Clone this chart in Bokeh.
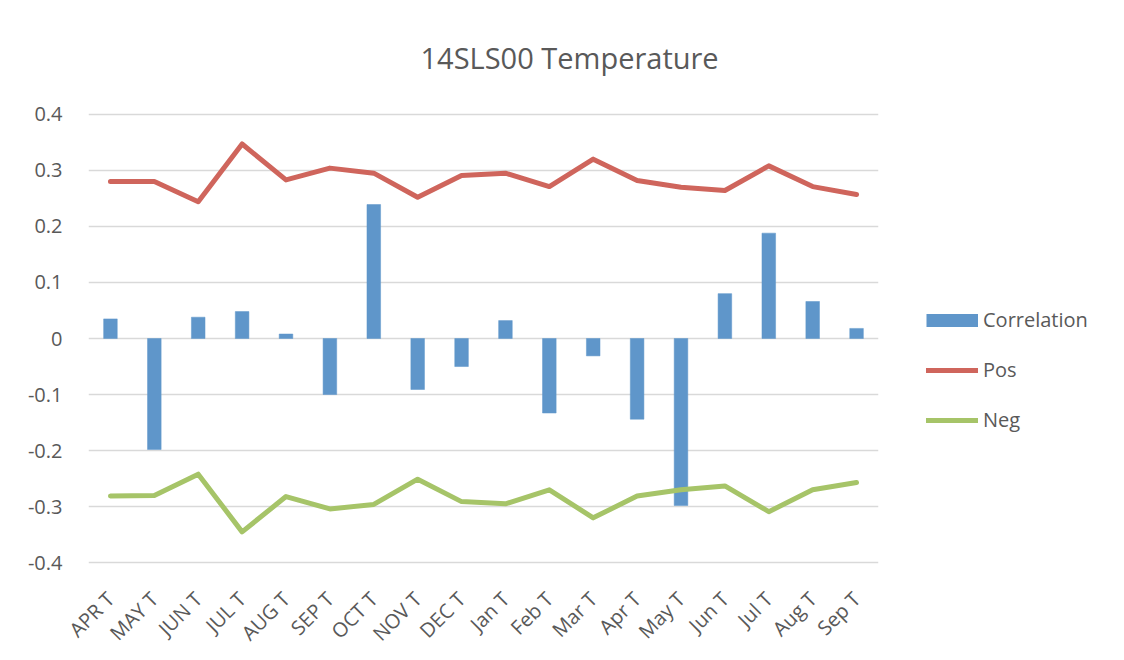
import math
from bokeh.plotting import figure
from bokeh.layouts import row
from bokeh.models import (FactorRange, Range1d, FixedTicker, Legend,
                          LegendItem, ColumnDataSource)
from bokeh.embed import file_html
from bokeh.resources import INLINE

categories = ["APR T", "MAY T", "JUN T", "JUL T", "AUG T", "SEP T", "OCT T",
              "NOV T", "DEC T", "Jan T", "Feb T", "Mar T", "Apr T", "May T",
              "Jun T", "Jul T", "Aug T", "Sep T"]
correlation = [0.035, -0.198, 0.038, 0.048, 0.008, -0.100, 0.239, -0.091,
               -0.050, 0.032, -0.133, -0.031, -0.144, -0.298, 0.080, 0.188,
               0.066, 0.018]
pos = [0.280, 0.280, 0.244, 0.347, 0.283, 0.304, 0.295, 0.252, 0.291, 0.295,
       0.271, 0.320, 0.282, 0.270, 0.264, 0.308, 0.271, 0.257]
neg = [-0.281, -0.280, -0.242, -0.345, -0.282, -0.304, -0.296, -0.251, -0.291,
       -0.295, -0.270, -0.320, -0.281, -0.270, -0.263, -0.309, -0.270, -0.257]
y_ticks = [-0.4, -0.3, -0.2, -0.1, 0, 0.1, 0.2, 0.3, 0.4]
y_tick_labels = ["-0.4", "-0.3", "-0.2", "-0.1", "0", "0.1", "0.2", "0.3", "0.4"]
title_text = "14SLS00 Temperature"
series_names = ["Correlation", "Pos", "Neg"]

BLUE = "#5F96CA"
RED = "#CF655C"
GREEN = "#A6C468"
TEXT = "#595959"
FONT = "Open Sans"

src = ColumnDataSource(dict(cat=categories, corr=correlation, pos=pos, neg=neg))

p = figure(frame_width=790, frame_height=454,
           x_range=FactorRange(*categories, range_padding=0),
           y_range=Range1d(-0.405, 0.405),
           output_backend="svg", toolbar_location=None,
           min_border_left=88, min_border_right=10,
           min_border_top=111, min_border_bottom=60)
p.outline_line_color = None
p.background_fill_color = "white"
p.border_fill_color = "white"

# title
p.title.text = title_text
p.title.align = "left"
p.title.offset = 332
p.title.standoff = 70
p.title.text_font = FONT
p.title.text_font_size = "29px"
p.title.text_font_style = "normal"
p.title.text_color = TEXT

bars = p.vbar(x="cat", top="corr", bottom=0, width=0.31, source=src,
              fill_color=BLUE, line_color=BLUE, line_width=0.5)
l_pos = p.line(x="cat", y="pos", source=src, line_color=RED, line_width=5,
               line_join="round", line_cap="round")
l_neg = p.line(x="cat", y="neg", source=src, line_color=GREEN, line_width=5,
               line_join="round", line_cap="round")

# axes
p.xgrid.grid_line_color = None
p.ygrid.grid_line_color = "#D9D9D9"
p.ygrid.grid_line_width = 1.5
p.yaxis.ticker = FixedTicker(ticks=y_ticks)
p.yaxis.major_label_overrides = dict(zip(y_ticks, y_tick_labels))
for ax in (p.xaxis[0], p.yaxis[0]):
    ax.axis_line_color = None
    ax.major_tick_line_color = None
    ax.minor_tick_line_color = None
    ax.major_label_text_color = TEXT
    ax.major_label_text_font = FONT
    ax.major_label_text_font_size = "20px"
p.yaxis.major_label_standoff = 20
p.xaxis.major_label_orientation = math.pi / 4
p.xaxis.major_label_standoff = 24

# legend panel (separate figure to the right of the plot area);
# its key renderers hold a single undrawable NaN point only
lf = figure(width=220, height=644, x_range=Range1d(0, 1), y_range=Range1d(0, 1),
            output_backend="svg", toolbar_location=None,
            x_axis_location=None, y_axis_location=None,
            min_border=0)
lf.grid.grid_line_color = None
lf.outline_line_color = None
lf.background_fill_color = "white"
lf.border_fill_color = "white"
nan = [float("nan")]
k_corr = lf.line(x=nan, y=nan, line_color=BLUE, line_width=13, line_cap="butt")
k_pos = lf.line(x=nan, y=nan, line_color=RED, line_width=5, line_cap="round")
k_neg = lf.line(x=nan, y=nan, line_color=GREEN, line_width=5, line_cap="round")

legend = Legend(items=[LegendItem(label=series_names[0], renderers=[k_corr]),
                       LegendItem(label=series_names[1], renderers=[k_pos]),
                       LegendItem(label=series_names[2], renderers=[k_neg])],
                location=(38, 117), orientation="vertical",
                border_line_color=None, background_fill_alpha=0,
                padding=0, margin=0, spacing=23,
                glyph_width=52, glyph_height=16, label_height=24,
                label_standoff=5, label_text_font=FONT,
                label_text_font_size="20px", label_text_color=TEXT)
lf.add_layout(legend)

layout = row(p, lf, spacing=0)
open("out.html", "w").write(file_html(layout, INLINE))
